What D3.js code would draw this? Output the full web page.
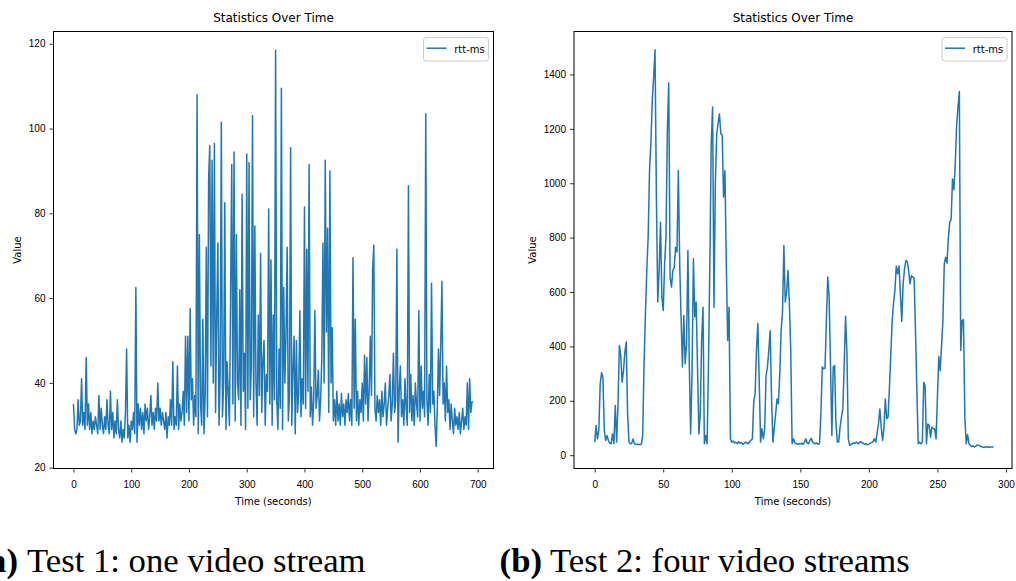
<!DOCTYPE html>
<html>
<head>
<meta charset="utf-8">
<script src="https://cdn.jsdelivr.net/npm/d3@7"></script>
<style>
  body { margin: 0; background: #fff; }
  svg { display: block; font-family: "DejaVu Sans", sans-serif; }
  .tick text { font-size: 10px; fill: #000; }
  .tick line { stroke: #000; stroke-width: 0.8; }
  .frame { fill: none; stroke: #000; stroke-width: 1; }
  .rtt-line { fill: none; stroke: #1f77b4; stroke-width: 1.5; stroke-linejoin: round; }
  .caption { font-family: "Liberation Serif", serif; font-size: 34.7px; fill: #000; }
</style>
</head>
<body>
<svg id="fig" width="1016" height="581"></svg>
<script>
// Test 1: one video stream, one sample every 2 seconds
const test1Step = 2;
const test1Rtt = [
  35, 29, 28, 29, 36, 30, 31, 41, 30, 33,
  29, 46, 30, 35, 29, 33, 28, 31, 29, 32,
  30, 28, 37, 29, 34, 30, 28, 32, 29, 36,
  30, 28, 38, 29, 33, 27, 31, 28, 36, 29,
  27, 31, 26, 29, 27, 33, 48, 27, 30, 26,
  31, 29, 33, 28, 62.5, 26, 35, 30, 34, 29,
  33, 28, 35, 31, 34, 29, 32, 37, 30, 33,
  29, 34, 31, 40, 31, 34, 30, 33, 31, 29,
  33, 27, 32, 30, 36, 30, 45, 29, 32, 30,
  44, 29, 35, 31, 33, 38, 30, 51, 33, 51,
  31, 57.5, 36, 41, 30, 37, 32, 108, 28, 75,
  35, 30, 55, 28, 37, 72, 32, 88, 96, 44,
  92.5, 40, 96.5, 33, 55, 73, 30, 42, 101.5, 32,
  40, 82.5, 29, 45, 38, 30, 60, 91.5, 35, 94.5,
  31, 75, 40, 36, 62, 30, 84.5, 38, 47, 29,
  94, 34, 92, 36, 44, 103, 32, 77, 40, 30,
  56, 37, 70.5, 33, 45, 50, 30, 42, 38, 81,
  35, 69, 30, 56, 36, 118.5, 36, 29, 48, 34,
  109.5, 29, 62.5, 40, 51.5, 72, 31, 37, 95.5, 30,
  43, 51, 28, 50, 33, 38, 57, 32, 41, 35,
  81.5, 34, 71.5, 38, 91.5, 32, 39, 30, 36, 57,
  34, 37, 43, 31, 36, 46, 73, 40, 92.5, 52,
  76.5, 33, 90, 40, 53, 31, 36, 30, 38, 31,
  35, 30, 37.5, 32, 35, 30, 36, 33, 37.5, 31,
  36, 30, 69.5, 34, 55, 31, 38, 30, 36, 33,
  40, 31, 46.5, 35, 46, 31, 38, 51, 37, 66.5,
  72.5, 34, 31, 37, 33, 36, 30, 38, 32, 35,
  40, 30, 34, 37, 42, 31, 35, 47, 33, 36,
  71.5, 26, 38, 44, 32, 36, 30, 41, 34, 30,
  86.5, 33, 42, 31, 37, 30, 40, 35, 32, 57,
  31, 44, 34, 38, 32, 103.5, 36, 30, 42, 33,
  63.5, 35, 38, 30, 25, 34, 48, 37, 49, 64,
  35, 40, 31, 44, 33, 36, 29, 35, 31, 28,
  34, 30, 32, 29, 33, 28, 31, 34, 29, 32,
  30, 40, 29, 41, 33, 35.5, 35.5
];

// Test 2: four video streams, one sample per second
const test2Step = 1;
const test2Rtt = [
  48, 109, 60, 91, 262, 303, 287, 91, 54, 72,
  54, 44, 42, 78, 42, 183, 48, 189, 403, 367,
  268, 311, 379, 416, 152, 48, 42, 44, 60, 42,
  40, 39, 40, 39, 40, 72, 336, 520, 680, 802,
  1047, 1150, 1304, 1390, 1491, 949, 563, 679, 857, 581,
  532, 704, 802, 1194, 1369, 655, 618, 679, 689, 765,
  747, 1047, 704, 508, 324, 514, 336, 409, 753, 336,
  78, 300, 722, 508, 563, 324, 78, 152, 422, 544,
  42, 72, 42, 336, 704, 1145, 1280, 544, 998, 1182,
  1219, 1255, 1182, 1178, 949, 1047, 704, 422, 544, 60,
  48, 52, 45, 48, 42, 50, 44, 46, 40, 43,
  48, 45, 42, 50, 55, 60, 195, 225, 385, 485,
  275, 48, 97, 60, 97, 293, 324, 385, 458, 213,
  48, 100, 152, 207, 189, 299, 458, 526, 771, 563,
  600, 679, 560, 385, 42, 60, 45, 42, 40, 43,
  41, 44, 40, 48, 60, 45, 42, 55, 62, 48,
  44, 42, 45, 40, 43, 152, 324, 318, 320, 495,
  655, 581, 336, 72, 324, 330, 115, 48, 48, 103,
  140, 170, 336, 511, 373, 60, 36, 40, 42, 45,
  44, 48, 42, 45, 50, 46, 43, 40, 42, 38,
  41, 44, 46, 50, 60, 48, 80, 115, 170, 103,
  54, 100, 207, 134, 140, 250, 373, 495, 560, 606,
  696, 667, 696, 593, 492, 630, 685, 716, 712, 679,
  630, 660, 655, 651, 458, 238, 42, 48, 42, 48,
  268, 256, 42, 115, 109, 66, 103, 97, 97, 60,
  213, 363, 311, 400, 495, 704, 728, 706, 800, 857,
  866, 1016, 976, 1071, 1212, 1280, 1337, 385, 495, 498,
  140, 42, 76, 42, 36, 32, 34, 30, 33, 38,
  36, 34, 32, 30, 28, 30, 31, 30, 29, 30,
  30, 30
];

const test1XTicks = [0, 100, 200, 300, 400, 500, 600, 700];
const test1YTicks = [20, 40, 60, 80, 100, 120];
const test2XTicks = [0, 50, 100, 150, 200, 250, 300];
const test2YTicks = [0, 200, 400, 600, 800, 1000, 1200, 1400];

const chartTitle = 'Statistics Over Time';
const seriesName = 'rtt-ms';

class RttChart {
  constructor(config, values) {
    this.config = config;
    this.data = values.map((v, i) => ({ time: i * config.step, rtt: v }));
    this.initVis();
  }

  initVis() {
    const vis = this;
    const c = vis.config;

    vis.svg = d3.select('#fig').append('g');

    vis.xScale = d3.scaleLinear().domain(c.xDomain).range([c.left, c.right]);
    vis.yScale = d3.scaleLinear().domain(c.yDomain).range([c.bottom, c.top]);

    const line = d3.line()
      .x(d => vis.xScale(d.time))
      .y(d => vis.yScale(d.rtt));

    vis.svg.append('path')
      .datum(vis.data)
      .attr('class', 'rtt-line')
      .attr('d', line);

    vis.svg.append('rect')
      .attr('class', 'frame')
      .attr('x', c.left)
      .attr('y', c.top)
      .attr('width', c.right - c.left)
      .attr('height', c.bottom - c.top);

    vis.svg.append('g')
      .attr('transform', `translate(0,${c.bottom})`)
      .call(d3.axisBottom(vis.xScale).tickValues(c.xTicks).tickFormat(d3.format('d')).tickSize(4).tickPadding(8))
      .call(g => g.select('.domain').remove())
      .call(g => g.selectAll('text').attr('font-family', null).attr('font-size', null));

    vis.svg.append('g')
      .attr('transform', `translate(${c.left},0)`)
      .call(d3.axisLeft(vis.yScale).tickValues(c.yTicks).tickFormat(d3.format('d')).tickSize(4).tickPadding(4))
      .call(g => g.select('.domain').remove())
      .call(g => g.selectAll('text').attr('font-family', null).attr('font-size', null));

    const midX = (c.left + c.right) / 2;

    vis.svg.append('text')
      .attr('x', midX)
      .attr('y', 21.5)
      .attr('text-anchor', 'middle')
      .style('font-size', '12px')
      .text(chartTitle);

    vis.svg.append('text')
      .attr('x', midX)
      .attr('y', 505)
      .attr('text-anchor', 'middle')
      .style('font-size', '10px')
      .text('Time (seconds)');

    vis.svg.append('text')
      .attr('transform', `translate(${c.ylabelX},${(c.top + c.bottom) / 2}) rotate(-90)`)
      .attr('text-anchor', 'middle')
      .style('font-size', '10px')
      .text('Value');

    // legend, upper right
    const lg = vis.svg.append('g').attr('transform', `translate(${c.right - 70},37.7)`);
    lg.append('rect')
      .attr('width', 65).attr('height', 23.3).attr('rx', 2.5)
      .attr('fill', '#fff').attr('fill-opacity', 0.8)
      .attr('stroke', '#cccccc').attr('stroke-width', 1);
    lg.append('line')
      .attr('x1', 3).attr('x2', 23).attr('y1', 10.5).attr('y2', 10.5)
      .attr('stroke', '#1f77b4').attr('stroke-width', 1.5);
    lg.append('text')
      .attr('x', 30.7).attr('y', 15)
      .style('font-size', '10px')
      .text(seriesName);

    // sub-figure caption
    vis.svg.append('text')
      .attr('class', 'caption')
      .attr('x', c.capLabelEnd)
      .attr('y', 572)
      .attr('text-anchor', 'end')
      .style('font-weight', 'bold')
      .text(c.capLabel);
    vis.svg.append('text')
      .attr('class', 'caption')
      .attr('x', c.capTextX)
      .attr('y', 572)
      .text(c.capText);
  }
}

new RttChart({
  step: test1Step,
  left: 53.5, right: 493.5, top: 31.5, bottom: 468.5,
  xDomain: [-34.6, 727.3], yDomain: [19.8, 122.9],
  xTicks: test1XTicks, yTicks: test1YTicks,
  ylabelX: 21,
  capLabel: '(a)', capLabelEnd: 18, capText: 'Test 1: one video stream', capTextX: 27
}, test1Rtt);

new RttChart({
  step: test2Step,
  left: 574, right: 1012, top: 31.5, bottom: 468.5,
  xDomain: [-15.1, 304.4], yDomain: [-49, 1558],
  xTicks: test2XTicks, yTicks: test2YTicks,
  ylabelX: 536,
  capLabel: '(b)', capLabelEnd: 542, capText: 'Test 2: four video streams', capTextX: 550
}, test2Rtt);
</script>
</body>
</html>
